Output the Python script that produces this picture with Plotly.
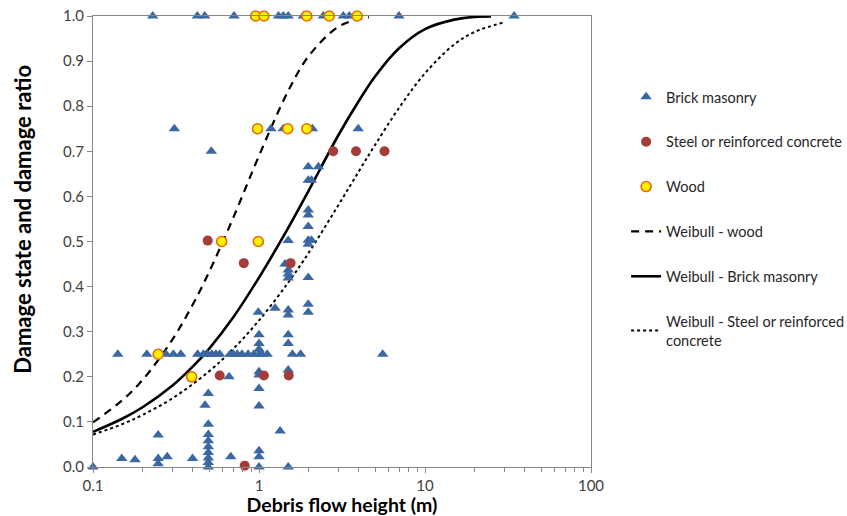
import plotly.graph_objects as go

# ---- data ----
brick_x = [0.229, 0.425, 0.471, 0.707, 0.955, 1.31, 1.40, 1.50, 1.85, 1.95, 2.44, 3.22, 3.50, 6.97, 34.4,
           0.309, 0.98, 1.18, 1.40, 2.10, 3.96,
           0.516,
           1.98, 2.28, 1.98, 2.07, 1.98, 1.98, 1.98, 1.98, 2.07, 1.98, 1.98, 1.98, 1.98,
           1.50, 1.434, 1.50, 1.50, 1.50, 1.50, 1.50, 1.50, 1.50, 1.50, 1.50,
           0.99, 1.0, 1.0, 1.0, 1.0, 1.0, 1.0, 1.0, 1.0, 1.0, 1.0, 0.99, 1.25, 1.34, 1.5,
           0.141, 0.211, 0.247, 0.275, 0.305, 0.338, 0.427, 0.462, 0.49, 0.52, 0.55, 0.58,
           0.67, 0.70, 0.74, 0.79, 0.86, 0.93, 1.0, 1.04, 1.12, 1.59, 1.78, 5.56,
           0.66, 0.495, 0.473, 0.495, 0.495, 0.495, 0.495, 0.495, 0.495, 0.495, 0.495,
           0.247, 0.149, 0.179, 0.247, 0.247, 0.28, 0.398, 0.676, 0.1]
brick_y = [1.0, 1.0, 1.0, 1.0, 1.0, 1.0, 1.0, 1.0, 1.0, 1.0, 1.0, 1.0, 1.0, 1.0, 1.0,
           0.75, 0.75, 0.75, 0.75, 0.75, 0.75,
           0.70,
           0.666, 0.666, 0.636, 0.636, 0.57, 0.559, 0.533, 0.503, 0.503, 0.494, 0.42, 0.361, 0.343,
           0.502, 0.45, 0.45, 0.437, 0.428, 0.419, 0.348, 0.337, 0.293, 0.274, 0.215,
           0.343, 0.293, 0.274, 0.261, 0.211, 0.204, 0.174, 0.135, 0.036, 0.023, 0.0, 0.5, 0.352, 0.08, 0.0,
           0.25, 0.25, 0.25, 0.25, 0.25, 0.25, 0.25, 0.25, 0.25, 0.25, 0.25, 0.25,
           0.25, 0.25, 0.25, 0.25, 0.25, 0.25, 0.25, 0.25, 0.25, 0.25, 0.25, 0.25,
           0.2, 0.163, 0.137, 0.095, 0.072, 0.058, 0.045, 0.032, 0.02, 0.01, 0.0,
           0.071, 0.019, 0.016, 0.019, 0.007, 0.023, 0.019, 0.023, 0.0]

steel_x = [0.491, 0.81, 1.55, 0.58, 1.07, 1.51, 0.82, 2.8, 3.84, 5.7]
steel_y = [0.502, 0.452, 0.452, 0.203, 0.203, 0.203, 0.003, 0.70, 0.70, 0.70]

wood_x = [0.955, 1.07, 1.94, 2.65, 3.9, 0.98, 1.49, 1.94, 0.596, 0.99, 0.247, 0.393]
wood_y = [1.0, 1.0, 1.0, 1.0, 1.0, 0.75, 0.75, 0.75, 0.5, 0.5, 0.25, 0.2]

# Weibull curves
wb_wood_x = [0.1, 0.15, 0.2, 0.3, 0.4, 0.5, 0.7, 1.0, 1.5, 2.0, 3.0, 4.0, 4.6]
wb_wood_y = [0.099, 0.148, 0.194, 0.282, 0.361, 0.432, 0.553, 0.690, 0.834, 0.912, 0.976, 0.993, 0.997]

wb_brick_x = [0.1, 0.15, 0.2, 0.3, 0.4, 0.5, 0.7, 1.0, 1.5, 2.0, 3.0, 4.0, 5.0, 7.0, 10.0, 15.0, 20.0, 25.0]
wb_brick_y = [0.078, 0.107, 0.133, 0.180, 0.223, 0.262, 0.332, 0.420, 0.530, 0.614, 0.735, 0.812, 0.866,
              0.929, 0.971, 0.992, 0.998, 0.999]

wb_steel_x = [0.1, 0.15, 0.2, 0.3, 0.5, 0.7, 1.0, 1.5, 2.0, 3.0, 4.0, 5.0, 7.0, 10.0, 15.0, 20.0, 30.0]
wb_steel_y = [0.072, 0.095, 0.116, 0.152, 0.212, 0.262, 0.325, 0.409, 0.476, 0.580, 0.656, 0.714,
              0.797, 0.873, 0.937, 0.965, 0.986]

FONT = "Lato, 'Open Sans', sans-serif"

fig = go.Figure()

fig.add_trace(go.Scatter(x=wb_wood_x, y=wb_wood_y, mode="lines", name="Weibull - wood",
                         line=dict(color="black", width=2.2, dash="8px,6px", shape="spline"),
                         legendrank=4, legendgroup="d", cliponaxis=False))
fig.add_trace(go.Scatter(x=wb_brick_x, y=wb_brick_y, mode="lines", name="Weibull - Brick masonry",
                         line=dict(color="black", width=2.6, shape="spline"),
                         legendrank=5, legendgroup="e", cliponaxis=False))
fig.add_trace(go.Scatter(x=wb_steel_x, y=wb_steel_y, mode="lines",
                         name="Weibull - Steel or reinforced<br>concrete",
                         line=dict(color="black", width=2, dash="dot", shape="spline"),
                         legendrank=6, legendgroup="f", cliponaxis=False))

fig.add_trace(go.Scatter(x=brick_x, y=brick_y, mode="markers", name="Brick masonry",
                         marker=dict(symbol="triangle-up", size=10, color="#3B67A3"),
                         legendrank=1, legendgroup="a", cliponaxis=False))
fig.add_trace(go.Scatter(x=steel_x, y=steel_y, mode="markers", name="Steel or reinforced concrete",
                         marker=dict(symbol="circle", size=10, color="#A33D39"),
                         legendrank=2, legendgroup="b", cliponaxis=False))
fig.add_trace(go.Scatter(x=wood_x, y=wood_y, mode="markers", name="Wood",
                         marker=dict(symbol="circle", size=10, color="#FFF200",
                                     line=dict(color="#E46C0A", width=1.6)),
                         legendrank=3, legendgroup="c", cliponaxis=False))

axis_col = "#868686"
fig.update_layout(
    width=847, height=516,
    margin=dict(l=93, r=256, t=16, b=49, autoexpand=False),
    paper_bgcolor="white", plot_bgcolor="white",
    font=dict(family=FONT, size=15, color="#404040"),
    showlegend=True,
    legend=dict(x=1.0705, y=0.856, xanchor="left", yanchor="top",
                font=dict(family=FONT, size=14.5, color="#262626"),
                tracegroupgap=23, itemwidth=30, bgcolor="rgba(0,0,0,0)"),
    xaxis=dict(type="log", range=[-1, 2], dtick=1, tickformat="~g",
               showline=True, linecolor=axis_col, linewidth=1, mirror=True,
               ticks="outside", ticklen=5, tickcolor=axis_col, showgrid=False, zeroline=False,
               minor=dict(ticks="outside", ticklen=4, tickcolor=axis_col, dtick="D1", showgrid=False),
               title=dict(text="<b>Debris flow height (m)</b>", font=dict(size=19.5, color="black"), standoff=2),
               tickfont=dict(size=15, color="#404040")),
    yaxis=dict(range=[0, 1], dtick=0.1, tickformat=".1f",
               showline=True, linecolor=axis_col, linewidth=1, mirror=True,
               ticks="outside", ticklen=5, tickcolor=axis_col, showgrid=False, zeroline=False,
               tickfont=dict(size=15, color="#404040")),
    annotations=[dict(text="<b>Damage state and damage ratio</b>", textangle=-90,
                      xref="paper", yref="paper", x=-0.141, y=0.55,
                      xanchor="center", yanchor="middle", showarrow=False,
                      font=dict(family=FONT, size=22, color="black"))],
)

fig.write_html("out.html")
